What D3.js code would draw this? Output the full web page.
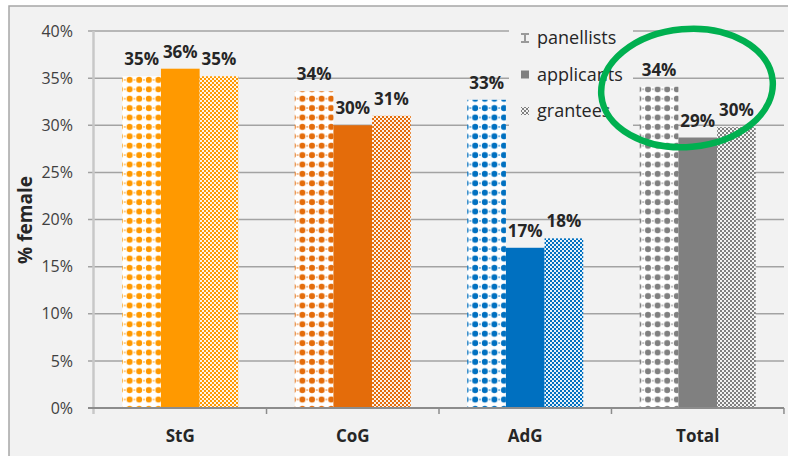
<!DOCTYPE html>
<html>
<head>
<meta charset="utf-8">
<script src="https://cdn.jsdelivr.net/npm/d3@7"></script>
<style>
  html, body { margin: 0; padding: 0; background: #ffffff; }
  svg { display: block; font-family: "Open Sans", "DejaVu Sans", sans-serif; }
</style>
</head>
<body>
<svg id="chart" width="788" height="456"></svg>
<script>
// Share of women by ERC grant type
const categories = ["StG", "CoG", "AdG", "Total"];
const seriesNames = ["panellists", "applicants", "grantees"];
const panellists = [0.352, 0.336, 0.327, 0.341];
const applicants = [0.360, 0.300, 0.170, 0.287];
const grantees   = [0.352, 0.310, 0.180, 0.298];
const yTicks = [0, 0.05, 0.10, 0.15, 0.20, 0.25, 0.30, 0.35, 0.40];
const categoryColors = ["#ff9900", "#e46c0a", "#0070c0", "#808080"];

const seriesValues = [panellists, applicants, grantees];

const svg = d3.select("#chart");
const defs = svg.append("defs");

// chart frame
svg.append("rect")
  .attr("x", 9).attr("y", 6).attr("width", 790).attr("height", 460)
  .attr("fill", "#f2f2f2").attr("stroke", "#a6a6a6").attr("stroke-width", 1.5);

const plot = { left: 94, right: 784, top: 31, bottom: 408 };

const x = d3.scaleBand().domain(categories)
  .range([plot.left, plot.right]).paddingInner(0.3275).paddingOuter(0.164);
const xs = d3.scaleBand().domain(seriesNames).range([0, x.bandwidth()]);
const y = d3.scaleLinear().domain([0, 0.4]).range([plot.bottom, plot.top]);
const pct = d3.format(".0%");

// fill patterns: dotted grid for panellists, fine checker for grantees
function dotPattern(id, color) {
  const p = defs.append("pattern").attr("id", id)
    .attr("patternUnits", "userSpaceOnUse").attr("width", 9.6).attr("height", 9.4);
  p.append("rect").attr("width", 9.6).attr("height", 9.4).attr("fill", "#ffffff");
  p.append("circle").attr("cx", 4.8).attr("cy", 4.7).attr("r", 3.0).attr("fill", color);
  p.append("rect").attr("x", 0).attr("y", 4.2).attr("width", 0.9).attr("height", 1.0).attr("fill", color);
  p.append("rect").attr("x", 8.7).attr("y", 4.2).attr("width", 0.9).attr("height", 1.0).attr("fill", color);
}
function checkPattern(id, color) {
  const p = defs.append("pattern").attr("id", id)
    .attr("patternUnits", "userSpaceOnUse").attr("width", 4).attr("height", 4);
  p.append("rect").attr("width", 4).attr("height", 4).attr("fill", color);
  p.append("rect").attr("x", 0).attr("y", 0).attr("width", 2).attr("height", 2).attr("fill", "#ffffff").attr("opacity", 0.9);
  p.append("rect").attr("x", 2).attr("y", 2).attr("width", 2).attr("height", 2).attr("fill", "#ffffff").attr("opacity", 0.9);
}
categoryColors.forEach((c, i) => { dotPattern("dots" + i, c); checkPattern("check" + i, c); });

function fillFor(seriesIndex, catIndex) {
  if (seriesIndex === 0) return "url(#dots" + catIndex + ")";
  if (seriesIndex === 2) return "url(#check" + catIndex + ")";
  return categoryColors[catIndex];
}

// gridlines (with short outward ticks)
svg.append("g").selectAll("line").data(yTicks.slice(1)).join("line")
  .attr("x1", plot.left - 6).attr("x2", plot.right)
  .attr("y1", d => y(d)).attr("y2", d => y(d))
  .attr("stroke", "#a3a3a3").attr("stroke-width", 1.5);

// y axis labels
const yAxis = svg.append("g").attr("transform", `translate(${plot.left},0)`)
  .call(d3.axisLeft(y).tickValues(yTicks).tickFormat(pct).tickSize(0).tickPadding(21));
yAxis.select(".domain").remove();
yAxis.selectAll("text").attr("font-size", 16).attr("fill", "#404040")
  .attr("font-family", "'Open Sans', sans-serif");

// bars
const rows = [];
categories.forEach((cat, ci) => {
  seriesNames.forEach((s, si) => {
    rows.push({ cat, ci, s, si, v: seriesValues[si][ci] });
  });
});

const barG = svg.append("g");
barG.selectAll("rect").data(rows).join("rect")
  .attr("x", d => x(d.cat) + xs(d.s))
  .attr("y", d => y(d.v))
  .attr("width", xs.bandwidth())
  .attr("height", d => y(0) - y(d.v))
  .attr("fill", d => fillFor(d.si, d.ci));

// value labels
svg.append("g").selectAll("text").data(rows).join("text")
  .attr("x", d => x(d.cat) + xs(d.s) + xs.bandwidth() / 2)
  .attr("y", d => y(d.v) - 11)
  .attr("text-anchor", "middle")
  .attr("font-size", 17).attr("font-weight", "bold").attr("fill", "#262626")
  .text(d => pct(d.v));

// y axis line
svg.append("line")
  .attr("x1", plot.left - 0.5).attr("x2", plot.left - 0.5)
  .attr("y1", plot.top).attr("y2", plot.bottom + 6)
  .attr("stroke", "#c8c8c8").attr("stroke-width", 2.5);

// x axis baseline and category boundary ticks
svg.append("line")
  .attr("x1", plot.left - 6).attr("x2", plot.right)
  .attr("y1", plot.bottom).attr("y2", plot.bottom)
  .attr("stroke", "#8c8c8c").attr("stroke-width", 2);
const step = x.step();
svg.append("g").selectAll("line").data(categories).join("line")
  .attr("x1", d => x(d) + x.bandwidth() + (step - x.bandwidth()) / 2)
  .attr("x2", d => x(d) + x.bandwidth() + (step - x.bandwidth()) / 2)
  .attr("y1", plot.bottom).attr("y2", plot.bottom + 6)
  .attr("stroke", "#8c8c8c").attr("stroke-width", 1.5);

const xAxis = svg.append("g").attr("transform", `translate(0,${plot.bottom})`)
  .call(d3.axisBottom(x).tickSize(0));
xAxis.select(".domain").remove();
xAxis.selectAll("text").attr("y", 34).attr("dy", 0)
  .attr("font-size", 17).attr("font-weight", "bold").attr("fill", "#262626")
  .attr("font-family", "'Open Sans', sans-serif");

// y axis title
svg.append("text")
  .attr("transform", "translate(32,220) rotate(-90)")
  .attr("text-anchor", "middle")
  .attr("font-size", 19).attr("font-weight", "bold").attr("fill", "#262626")
  .text("% female");

// legend
const legend = svg.append("g");
legend.append("rect").attr("x", 509).attr("y", 14).attr("width", 124).attr("height", 118)
  .attr("fill", "#f2f2f2");
const legendY = d3.scalePoint().domain(seriesNames).range([38, 111]);
const legendColor = categoryColors[3];
seriesNames.forEach((s, si) => {
  const cy = legendY(s);
  if (si === 0) {
    legend.append("path")
      .attr("d", `M521,${cy - 5}h8v2h-3v6h3v2h-8v-2h3v-6h-3z`)
      .attr("fill", "#9a9a9a");
  } else {
    legend.append("rect").attr("x", 521).attr("y", cy - 4).attr("width", 8).attr("height", 8)
      .attr("fill", si === 2 ? "url(#check3)" : legendColor);
  }
  legend.append("text").attr("x", 537).attr("y", cy).attr("dy", "0.35em")
    .attr("font-size", 18).attr("fill", "#262626").text(s);
});

// highlight ring around the Total group
svg.append("ellipse")
  .attr("cx", 687).attr("cy", 88).attr("rx", 86).attr("ry", 59)
  .attr("transform", "rotate(-5,687,88)")
  .attr("fill", "none").attr("stroke", "#00b050").attr("stroke-width", 6.5);
</script>
</body>
</html>
